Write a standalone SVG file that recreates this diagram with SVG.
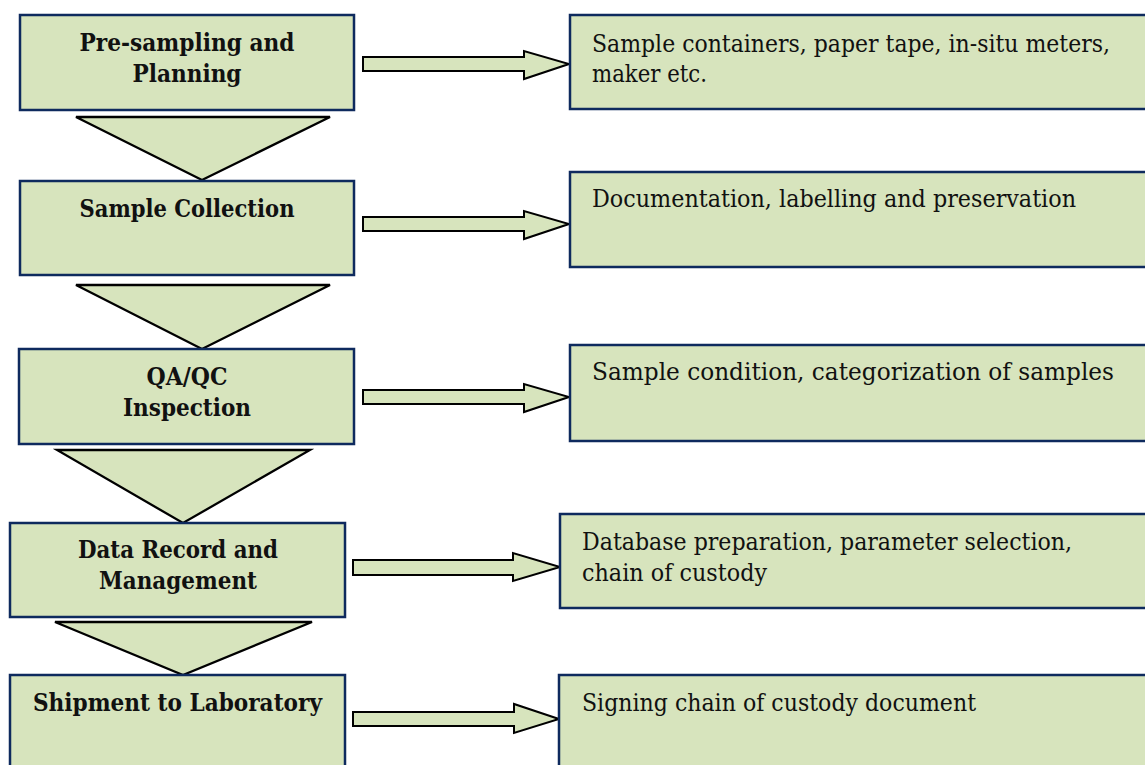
<svg xmlns="http://www.w3.org/2000/svg" width="1145" height="765" viewBox="0 0 1145 765">
<style>
.box{fill:#D7E4BD;stroke:#0E2A5E;stroke-width:2.5}
.tri{fill:#D7E4BD;stroke:#000;stroke-width:2.3;stroke-linejoin:miter}
.arr{fill:#D7E4BD;stroke:#000;stroke-width:2;stroke-linejoin:miter}
.t{font-family:"DejaVu Serif","Liberation Serif",serif;font-weight:bold;font-size:24px;fill:#111;text-anchor:middle}
.d{font-family:"DejaVu Serif","Liberation Serif",serif;font-size:23.5px;fill:#111}
</style>
<rect width="1145" height="765" fill="#fff"/>
<g id="connectors">
<polygon class="tri" points="76,117 330,117 202,180"/>
<polygon class="tri" points="76,285 330,285 202,349"/>
<polygon class="tri" points="57,450 310,450 183,523"/>
<polygon class="tri" points="55,622 312,622 183,675"/>
<polygon class="arr" points="363,57 524,57 524,51 569,64 524,79 524,71 363,71"/>
<polygon class="arr" points="363,217 524,217 524,211 569,224 524,239 524,231 363,231"/>
<polygon class="arr" points="363,390 524,390 524,384 569,397 524,412 524,404 363,404"/>
<polygon class="arr" points="353,560 513,560 513,553 560,567 513,581 513,575 353,575"/>
<polygon class="arr" points="353,712 514,712 514,704 559,719 514,733 514,726 353,726"/>
</g>
<g id="n1">
<rect class="box" x="20" y="15" width="334" height="95"/>
<text class="t" x="187" y="51" textLength="215" lengthAdjust="spacingAndGlyphs">Pre-sampling and</text>
<text class="t" x="187" y="82" textLength="109" lengthAdjust="spacingAndGlyphs">Planning</text>
</g>
<g id="n2">
<rect class="box" x="20" y="181" width="334" height="94"/>
<text class="t" x="187" y="217" textLength="215" lengthAdjust="spacingAndGlyphs">Sample Collection</text>
</g>
<g id="n3">
<rect class="box" x="19" y="349" width="335" height="95"/>
<text class="t" x="187" y="385" textLength="81" lengthAdjust="spacingAndGlyphs">QA/QC</text>
<text class="t" x="187" y="416" textLength="128" lengthAdjust="spacingAndGlyphs">Inspection</text>
</g>
<g id="n4">
<rect class="box" x="10" y="523" width="335" height="94"/>
<text class="t" x="178" y="558" textLength="200" lengthAdjust="spacingAndGlyphs">Data Record and</text>
<text class="t" x="178" y="589" textLength="158" lengthAdjust="spacingAndGlyphs">Management</text>
</g>
<g id="n5">
<rect class="box" x="10" y="675" width="335" height="100"/>
<text class="t" x="177.5" y="711" textLength="289" lengthAdjust="spacingAndGlyphs">Shipment to Laboratory</text>
</g>
<g id="r1">
<rect class="box" x="570" y="15" width="585" height="94"/>
<text class="d" x="592" y="52" textLength="518" lengthAdjust="spacingAndGlyphs">Sample containers, paper tape, in-situ meters,</text>
<text class="d" x="592" y="82" textLength="115" lengthAdjust="spacingAndGlyphs">maker etc.</text>
</g>
<g id="r2">
<rect class="box" x="570" y="172" width="585" height="95"/>
<text class="d" x="592" y="207" textLength="484" lengthAdjust="spacingAndGlyphs">Documentation, labelling and preservation</text>
</g>
<g id="r3">
<rect class="box" x="570" y="345" width="585" height="96"/>
<text class="d" x="592" y="380" textLength="522" lengthAdjust="spacingAndGlyphs">Sample condition, categorization of samples</text>
</g>
<g id="r4">
<rect class="box" x="560" y="514" width="595" height="94"/>
<text class="d" x="582" y="550" textLength="490" lengthAdjust="spacingAndGlyphs">Database preparation, parameter selection,</text>
<text class="d" x="582" y="581" textLength="185" lengthAdjust="spacingAndGlyphs">chain of custody</text>
</g>
<g id="r5">
<rect class="box" x="559" y="675" width="596" height="100"/>
<text class="d" x="582" y="711" textLength="394" lengthAdjust="spacingAndGlyphs">Signing chain of custody document</text>
</g>
</svg>
